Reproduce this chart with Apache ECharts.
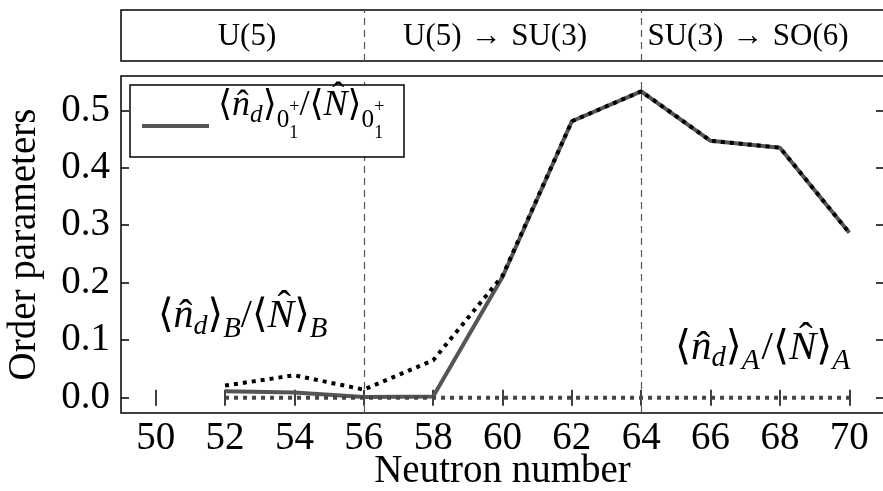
<!DOCTYPE html>
<html>
<head>
<meta charset="utf-8">
<script src="https://cdn.jsdelivr.net/npm/echarts@6/dist/echarts.min.js"></script>
<style>
  html, body { margin: 0; padding: 0; background: #fff; }
  #chart { width: 883px; height: 491px; }
</style>
</head>
<body>
<div id="chart"></div>
<script>
// Neutron numbers and order-parameter ratios
const neutrons    = [52, 54, 56, 58, 60, 62, 64, 66, 68, 70];
const ratioGround = [0.011, 0.009, 0.001, 0.002, 0.210, 0.481, 0.533, 0.447, 0.435, 0.287];
const ratioB      = [0.021, 0.039, 0.014, 0.065, 0.212, 0.481, 0.533, 0.447, 0.435, 0.287];
const ratioA      = [0.000, 0.000, 0.000, 0.000, 0.000, 0.000, 0.000, 0.000, 0.000, 0.000];
const xTicks = [50, 52, 54, 56, 58, 60, 62, 64, 66, 68, 70];
const yTicks = [0.0, 0.1, 0.2, 0.3, 0.4, 0.5];
const dividers = [56, 64];
const regionLabels = [['U(5)'], ['U(5)', 'SU(3)'], ['SU(3)', 'SO(6)']];

const FAM = '"Liberation Serif", "DejaVu Serif", serif';
const pairs = ys => neutrons.map((n, i) => [n, ys[i]]);

// --- small typesetting helper for the math labels ---
const mctx = document.createElement('canvas').getContext('2d');
function fnt(size, italic) { return (italic ? 'italic ' : '') + size.toFixed(1) + 'px ' + FAM; }
function textWidth(t, size, italic) { mctx.font = fnt(size, italic); return mctx.measureText(t).width; }
function glyph(t, x, base, size, italic, align) {
  return {
    type: 'text', x: x, y: base - 0.3375 * size, silent: true, z: 100,
    style: {
      text: t, font: fnt(size, italic), fill: '#000',
      align: align || 'left', verticalAlign: 'middle',
      textAlign: align || 'left', textVerticalAlign: 'middle'
    }
  };
}
// lays out pieces left to right; returns elements and total width
function mathRow(x0, base, S, pieces) {
  const out = [];
  let x = x0;
  pieces.forEach(p => {
    const s = S * (p.r || 1);
    if (p.stack) {
      let w = 0;
      p.stack.forEach(([t, dy]) => {
        out.push(glyph(t, x, base + dy * S, s, false));
        w = Math.max(w, textWidth(t, s, false));
      });
      x += w;
      return;
    }
    x += (p.dx || 0) * S;
    const w = textWidth(p.t, s, p.it);
    out.push(glyph(p.t, x, base + (p.dy || 0) * S, s, p.it));
    if (p.hat) out.push(glyph('\u02C6', x + w / 2 + p.hat[0] * S, base + p.hat[1] * S, s, false, 'center'));
    x += w + (p.after || 0) * S;
  });
  out.width = x - x0;
  return out;
}
function centeredRow(cx, base, S, pieces) {
  const w = mathRow(0, base, S, pieces).width;
  return mathRow(cx - w / 2, base, S, pieces);
}
function ratioPieces(sub) {
  return [
    { t: '\u27E8' }, { t: 'n', it: true, hat: [0.05, 0] }, { t: 'd', it: true, r: 0.7, dy: 0.15 },
    { t: '\u27E9' }, ...sub, { t: '/' },
    { t: '\u27E8' }, { t: 'N', it: true, hat: [0.08, -0.22] }, { t: '\u27E9' }, ...sub
  ];
}
const subGround = [{ t: '0', r: 0.7, dy: 0.3 }, { stack: [['+', -0.12], ['1', 0.58]], r: 0.5 }];
const subB = [{ t: 'B', it: true, r: 0.72, dy: 0.22 }];
const subA = [{ t: 'A', it: true, r: 0.72, dy: 0.22, after: 0.04 }];

function regionPieces(parts) {
  if (parts.length === 1) return [{ t: parts[0] }];
  return [{ t: parts[0] }, { t: '\u2192', dx: 0.3 }, { t: parts[1], dx: 0.3 }];
}

const graphics = [
  // legend frame and sample line
  { type: 'rect', shape: { x: 130, y: 85, width: 274, height: 72 }, z: 90,
    style: { fill: '#fff', stroke: '#000', lineWidth: 1.5 } },
  { type: 'line', shape: { x1: 142, y1: 126, x2: 209, y2: 126 }, z: 91,
    style: { stroke: '#555', lineWidth: 4 } },
  ...mathRow(218, 118, 36, ratioPieces(subGround)),
  ...mathRow(158, 330, 40, ratioPieces(subB)),
  ...mathRow(675, 362, 41, ratioPieces(subA)),
  ...centeredRow(247, 47, 31, regionPieces(regionLabels[0])),
  ...centeredRow(495, 47, 31, regionPieces(regionLabels[1])),
  ...centeredRow(748, 47, 31, regionPieces(regionLabels[2]))
];

const tickStyle = { inside: true, length: 8, lineStyle: { color: '#000', width: 1.5 } };
const labelFont = { color: '#000', fontFamily: FAM, fontSize: 39 };
const dividerLine = {
  silent: true, symbol: 'none', label: { show: false },
  lineStyle: { color: '#555', width: 1.2, type: [7, 5] },
  data: dividers.map(v => ({ xAxis: v }))
};

const chart = echarts.init(document.getElementById('chart'), null, { renderer: 'canvas' });
chart.setOption({
  animation: false,
  backgroundColor: '#fff',
  grid: [
    { left: 121, top: 76, width: 763, height: 337, show: true, borderColor: '#000', borderWidth: 1.5,
      containLabel: false, outerBoundsMode: 'none' },
    { left: 121, top: 10, width: 763, height: 51, show: true, borderColor: '#000', borderWidth: 1.5,
      containLabel: false, outerBoundsMode: 'none' }
  ],
  xAxis: [
    {
      type: 'value', gridIndex: 0, min: 49, max: 71,
      name: 'Neutron number', nameLocation: 'middle', nameGap: 39, nameMoveOverlap: false,
      nameTextStyle: { color: '#000', fontFamily: FAM, fontSize: 39 },
      axisLine: { show: false },
      axisTick: Object.assign({ customValues: xTicks }, tickStyle),
      axisLabel: Object.assign({ customValues: xTicks, margin: 6 }, labelFont),
      splitLine: { show: false }
    },
    {
      type: 'value', gridIndex: 0, min: 49, max: 71, position: 'top',
      axisLine: { show: false },
      axisTick: Object.assign({ customValues: xTicks }, tickStyle),
      axisLabel: { show: false }, splitLine: { show: false }
    },
    { type: 'value', gridIndex: 1, min: 49, max: 71, show: false }
  ],
  yAxis: [
    {
      type: 'value', gridIndex: 0, min: -0.0267, max: 0.5597,
      name: 'Order parameters', nameLocation: 'middle', nameGap: 77, nameMoveOverlap: false,
      nameTextStyle: { color: '#000', fontFamily: FAM, fontSize: 39 },
      axisLine: { show: false },
      axisTick: Object.assign({ customValues: yTicks }, tickStyle),
      axisLabel: Object.assign({ customValues: yTicks, margin: 11, formatter: v => v.toFixed(1) }, labelFont),
      splitLine: { show: false }
    },
    {
      type: 'value', gridIndex: 0, min: -0.0267, max: 0.5597, position: 'right',
      axisLine: { show: false },
      axisTick: Object.assign({ customValues: yTicks }, tickStyle),
      axisLabel: { show: false }, splitLine: { show: false }
    },
    { type: 'value', gridIndex: 1, min: 0, max: 1, show: false }
  ],
  series: [
    {
      name: 'configA', type: 'line', xAxisIndex: 0, yAxisIndex: 0,
      data: pairs(ratioA), symbol: 'none', z: 3,
      lineStyle: { color: '#444', width: 4, type: [4, 5] },
      markLine: dividerLine
    },
    {
      name: 'ground', type: 'line', xAxisIndex: 0, yAxisIndex: 0,
      data: pairs(ratioGround), symbol: 'none', z: 2,
      lineStyle: { color: '#555', width: 4 }
    },
    {
      name: 'configB', type: 'line', xAxisIndex: 0, yAxisIndex: 0,
      data: pairs(ratioB), symbol: 'none', z: 4,
      lineStyle: { color: '#000', width: 4, type: [4, 5] }
    },
    {
      name: 'regions', type: 'line', xAxisIndex: 2, yAxisIndex: 2,
      data: [], symbol: 'none',
      markLine: dividerLine
    }
  ],
  graphic: graphics
});
</script>
</body>
</html>
